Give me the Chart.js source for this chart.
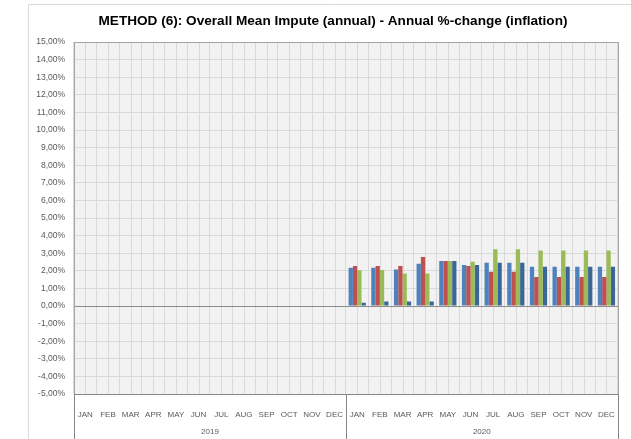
<!DOCTYPE html>
<html><head><meta charset="utf-8">
<script src="https://cdn.jsdelivr.net/npm/chart.js@4.4.1/dist/chart.umd.min.js"></script>
<style>html,body{margin:0;padding:0;background:#fff}#wrap{width:631px;height:439px}</style>
</head><body><div id="wrap"><canvas id="c" width="631" height="439"></canvas></div>
<script>
const titleText = 'METHOD (6): Overall Mean Impute (annual) - Annual %-change (inflation)';
const months = ['JAN','FEB','MAR','APR','MAY','JUN','JUL','AUG','SEP','OCT','NOV','DEC'];
const years = ['2019','2020'];
const categories = years.flatMap(() => months);
const seriesBlue  = [null,null,null,null,null,null,null,null,null,null,null,null, 2.18,2.18,2.08,2.40,2.56,2.33,2.46,2.46,2.23,2.23,2.23,2.23];
const seriesRed   = [null,null,null,null,null,null,null,null,null,null,null,null, 2.27,2.27,2.27,2.78,2.56,2.27,1.95,1.95,1.65,1.65,1.65,1.65];
const seriesGreen = [null,null,null,null,null,null,null,null,null,null,null,null, 2.03,2.05,1.84,1.84,2.56,2.52,3.22,3.22,3.16,3.16,3.16,3.16];
const seriesDark  = [null,null,null,null,null,null,null,null,null,null,null,null, 0.19,0.25,0.25,0.25,2.56,2.33,2.46,2.46,2.23,2.23,2.23,2.23];
const yMin = -5, yMax = 15;

const FONT = "'Liberation Sans', Arial, sans-serif";

const decoPlugin = {
  id: 'deco',
  beforeDraw(chart) {
    const {ctx, chartArea: a} = chart;
    ctx.save();
    ctx.fillStyle = '#ffffff';
    ctx.fillRect(0, 0, chart.width, chart.height);
    ctx.strokeStyle = '#D9D9D9';
    ctx.lineWidth = 1;
    ctx.beginPath();
    ctx.moveTo(28.5, chart.height); ctx.lineTo(28.5, 4.5); ctx.lineTo(chart.width, 4.5);
    ctx.stroke();
    ctx.fillStyle = '#F2F2F2';
    ctx.fillRect(a.left, a.top, a.right - a.left, a.bottom - a.top);
    ctx.fillStyle = '#000000';
    ctx.font = "bold 13.6px " + FONT;
    ctx.textAlign = 'center';
    ctx.textBaseline = 'middle';
    ctx.fillText(titleText, 333, 21);
    ctx.restore();
  },
  beforeDatasetsDraw(chart) {
    const {ctx, chartArea: a} = chart;
    const xs = chart.scales.x;
    ctx.save();
    ctx.strokeStyle = '#D9D9D9';
    ctx.lineWidth = 1;
    ctx.beginPath();
    for (let i = 0; i < categories.length; i++) {
      const x = Math.round(xs.getPixelForValue(i)) + 0.5;
      ctx.moveTo(x, a.top); ctx.lineTo(x, a.bottom);
    }
    ctx.stroke();
    const y0 = Math.round(chart.scales.y.getPixelForValue(0)) + 0.5;
    ctx.strokeStyle = '#8C8C8C';
    ctx.beginPath(); ctx.moveTo(a.left, y0); ctx.lineTo(a.right, y0); ctx.stroke();
    ctx.restore();
  },
  afterDraw(chart) {
    const {ctx, chartArea: a} = chart;
    const xs = chart.scales.x;
    const half = (xs.getPixelForValue(1) - xs.getPixelForValue(0)) / 2;
    ctx.save();
    ctx.strokeStyle = '#A6A6A6';
    ctx.lineWidth = 1;
    ctx.strokeRect(Math.round(a.left) + 0.5, Math.round(a.top) + 0.5, Math.round(a.right - a.left), Math.round(a.bottom - a.top));
    ctx.strokeStyle = '#868686';
    ctx.beginPath();
    ctx.moveTo(a.left, Math.round(a.bottom) + 0.5); ctx.lineTo(a.right, Math.round(a.bottom) + 0.5);
    ctx.stroke();
    ctx.fillStyle = '#595959';
    ctx.font = "8px " + FONT;
    ctx.textAlign = 'center';
    ctx.textBaseline = 'middle';
    years.forEach((yr, gi) => {
      const l = xs.getPixelForValue(gi * 12) - half;
      const r = xs.getPixelForValue(gi * 12 + 11) + half;
      ctx.strokeStyle = '#868686';
      ctx.beginPath();
      [l, r].forEach(x => { const px = Math.round(x) + 0.5; ctx.moveTo(px, a.bottom); ctx.lineTo(px, chart.height); });
      ctx.stroke();
      ctx.fillText(yr, (l + r) / 2, 432);
    });
    ctx.restore();
  }
};

new Chart(document.getElementById('c'), {
  type: 'bar',
  data: {
    labels: categories,
    datasets: [
      {label: 'Series 1', data: seriesBlue,  backgroundColor: '#4F81BD'},
      {label: 'Series 2', data: seriesRed,   backgroundColor: '#C0504D'},
      {label: 'Series 3', data: seriesGreen, backgroundColor: '#9BBB59'},
      {label: 'Series 4', data: seriesDark,  backgroundColor: '#3A669A'}
    ]
  },
  options: {
    responsive: false,
    animation: false,
    devicePixelRatio: 1,
    layout: {padding: {left: 0, right: 6, top: 42, bottom: 0}},
    datasets: {bar: {categoryPercentage: 0.76, barPercentage: 1.0}},
    plugins: {
      legend: {display: false},
      tooltip: {enabled: false},
      title: {display: false}
    },
    scales: {
      x: {
        offset: true,
        grid: {display: true, offset: true, color: '#D9D9D9', drawTicks: false},
        border: {display: false},
        ticks: {color: '#595959', font: {family: FONT, size: 8}, padding: 16, maxRotation: 0, autoSkip: false},
        afterFit(s) { s.height = 45; }
      },
      y: {
        min: yMin, max: yMax,
        grid: {color: '#D9D9D9', drawTicks: false},
        border: {display: false},
        ticks: {
          stepSize: 1, color: '#595959', padding: 9,
          font: {family: FONT, size: 8.5},
          callback: v => v.toFixed(2).replace('.', ',') + '%'
        },
        afterFit(s) { s.width = 74; }
      }
    }
  },
  plugins: [decoPlugin]
});
</script>
</body></html>
